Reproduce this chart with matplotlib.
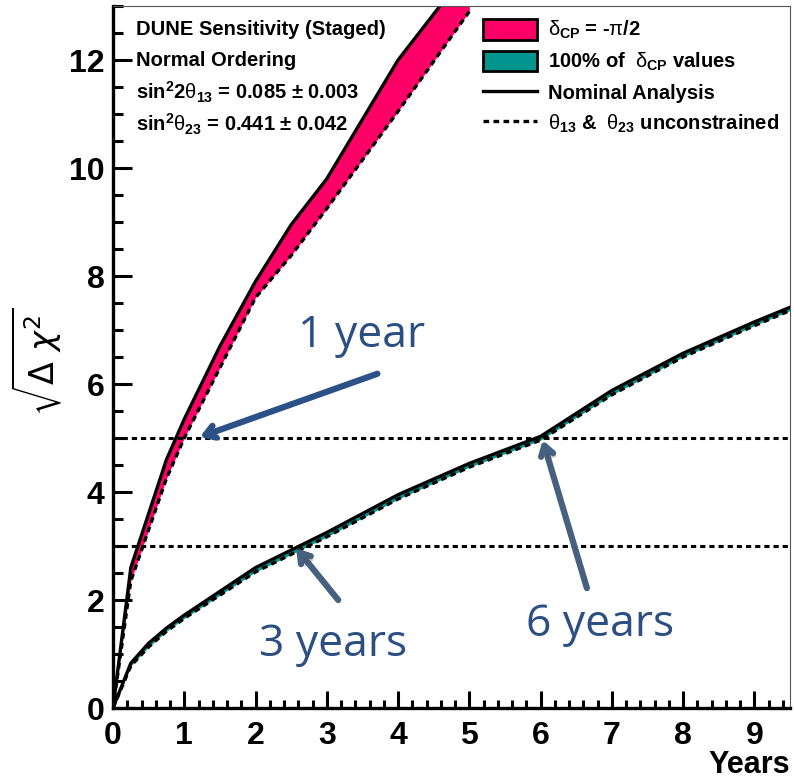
import matplotlib
matplotlib.use("Agg")
import matplotlib.pyplot as plt
import matplotlib.patheffects as pe
from matplotlib.patches import Patch
from matplotlib.lines import Line2D
from matplotlib.ticker import MultipleLocator

# ── data (sqrt(Δχ²) vs exposure in years) ───────────────────────────────────
years_max = [0, 0.25, 0.75, 1, 1.5, 2, 2.5, 3, 4, 5]
max_nominal = [0, 2.6, 4.6, 5.35, 6.7, 7.9, 8.95, 9.8, 12.0, 13.7]
max_unconstr = [0, 2.35, 4.25, 5.0, 6.3, 7.6, 8.38, 9.25, 11.05, 12.9]

years_all = [0, 0.25, 0.5, 0.75, 1, 2, 3, 4, 5, 6, 7, 8, 9, 9.5]
all_nominal = [0, 0.83, 1.2, 1.48, 1.72, 2.6, 3.25, 3.95, 4.53, 5.03, 5.88, 6.57, 7.15, 7.42]
all_unconstr = [0, 0.78, 1.13, 1.42, 1.66, 2.52, 3.17, 3.87, 4.46, 4.96, 5.80, 6.50, 7.08, 7.36]

thresholds = [5, 3]

# annotation: label, label position, arrow tail, arrow head
callouts = [
    ("1 year",  (3.49, 6.90), (3.71, 6.19), (1.22, 5.02)),
    ("3 years", (3.09, 1.17), (3.16, 2.00), (2.57, 2.96)),
    ("6 years", (6.83, 1.54), (6.65, 2.22), (6.03, 4.96)),
]

# ── style ───────────────────────────────────────────────────────────────────
PINK = "#ff0066"
TEAL = "#00968f"
DOTS = (0, (1.7, 1.3))
plt.rcParams["font.family"] = ["Liberation Sans", "DejaVu Sans"]
plt.rcParams["mathtext.fontset"] = "custom"
plt.rcParams["mathtext.rm"] = "Liberation Sans:bold"
plt.rcParams["mathtext.bf"] = "Liberation Sans:bold"
plt.rcParams["mathtext.it"] = "Liberation Sans"

fig = plt.figure(figsize=(7.94, 7.80), dpi=100)
ax = fig.add_axes([113 / 794, 72 / 780, 677 / 794, 702 / 780])

# δCP = -π/2 band
ax.fill_between(years_max, max_unconstr, max_nominal, color=PINK, lw=0)
ax.plot(years_max, max_nominal, color="black", lw=2.4)
ax.plot(years_max, max_unconstr, color="black", lw=2.4, ls=DOTS)

# 100% of δCP band
ax.fill_between(years_all, all_unconstr, all_nominal, color=TEAL, lw=0)
ax.plot(years_all, all_nominal, color="black", lw=2.4)
ax.plot(years_all, all_unconstr, color="black", lw=2.4, ls=DOTS)

for t in thresholds:
    ax.plot([0, 9.5], [t, t], color="black", lw=2.2, ls=DOTS)

ax.set_xlim(0, 9.5)
ax.set_ylim(0, 13)

# ── axes cosmetics ──────────────────────────────────────────────────────────
for side in ["left", "bottom"]:
    ax.spines[side].set_linewidth(2.4)
for side in ["top", "right"]:
    ax.spines[side].set_linewidth(0.8)
    ax.spines[side].set_color("#555555")

ax.xaxis.set_major_locator(MultipleLocator(1))
ax.xaxis.set_minor_locator(MultipleLocator(0.2))
ax.yaxis.set_major_locator(MultipleLocator(2))
ax.yaxis.set_minor_locator(MultipleLocator(0.5))
ax.tick_params(axis="both", which="both", direction="in", top=False, right=False)
ax.tick_params(axis="x", which="major", length=12, width=2.2, pad=9)
ax.tick_params(axis="x", which="minor", length=6, width=2.2)
ax.tick_params(axis="y", which="major", length=14, width=2.2, pad=6)
ax.tick_params(axis="y", which="minor", length=7, width=2.2)
for lab in ax.get_xticklabels() + ax.get_yticklabels():
    lab.set_fontweight("bold")
    lab.set_fontsize(23)

fig.text(790 / 794, 1 - 765 / 780, "Years", ha="right", va="center",
         fontsize=22, fontweight="bold")
fig.text(37 / 794, 1 - 362 / 780, r"$\sqrt{\Delta\ \chi^2}$", rotation=90,
         ha="center", va="center", fontsize=24, math_fontfamily="dejavusans")

# ── info text ───────────────────────────────────────────────────────────────
info = [
    "DUNE Sensitivity (Staged)",
    "Normal Ordering",
    r"sin$^{2}$2$\theta_{13}$ = 0.085 $\pm$ 0.003",
    r"sin$^{2}$$\theta_{23}$ = 0.441 $\pm$ 0.042",
]
info_y = [0.966, 0.923, 0.877, 0.832]
for txt, yy in zip(info, info_y):
    ax.text(0.034, yy, txt, transform=ax.transAxes, ha="left", va="center",
            fontsize=14.5, fontweight="bold")

# ── legend ──────────────────────────────────────────────────────────────────
handles = [
    Patch(facecolor=PINK, edgecolor="black", lw=2),
    Patch(facecolor=TEAL, edgecolor="black", lw=2),
    Line2D([], [], color="black", lw=2.4),
    Line2D([], [], color="black", lw=2.4, ls=DOTS),
]
labels = [
    r"$\delta_{\rm CP}$ = -$\pi$/2",
    r"100% of  $\delta_{\rm CP}$ values",
    "Nominal Analysis",
    r"$\theta_{13}$ &  $\theta_{23}$ unconstrained",
]
leg = ax.legend(handles, labels, loc="upper left",
                bbox_to_anchor=((483 - 113) / 677, 1 - 13 / 702),
                frameon=False, borderpad=0, borderaxespad=0,
                handlelength=2.7, handleheight=1.2, handletextpad=0.55,
                labelspacing=0.46, prop={"weight": "bold", "size": 14.5})

# ── callouts ────────────────────────────────────────────────────────────────
TXT_BLUE = "#2b4f82"
shadow = [pe.SimplePatchShadow(offset=(2.5, -2.5), alpha=0.25), pe.Normal()]
for i, (label, pos, tail, head) in enumerate(callouts):
    arrow_color = "#2b5188" if i == 0 else "#46617f"
    ax.text(pos[0], pos[1], label, ha="center", va="center", fontsize=32,
            color=TXT_BLUE, family="Open Sans")
    arr = ax.annotate("", xy=head, xytext=tail,
                      arrowprops=dict(arrowstyle="->,head_length=0.7,head_width=0.45",
                                      color=arrow_color, lw=4.5,
                                      shrinkA=0, shrinkB=0,
                                      capstyle="round", joinstyle="round"))
    arr.arrow_patch.set_path_effects(shadow)

fig.savefig("out.png", dpi=100)
